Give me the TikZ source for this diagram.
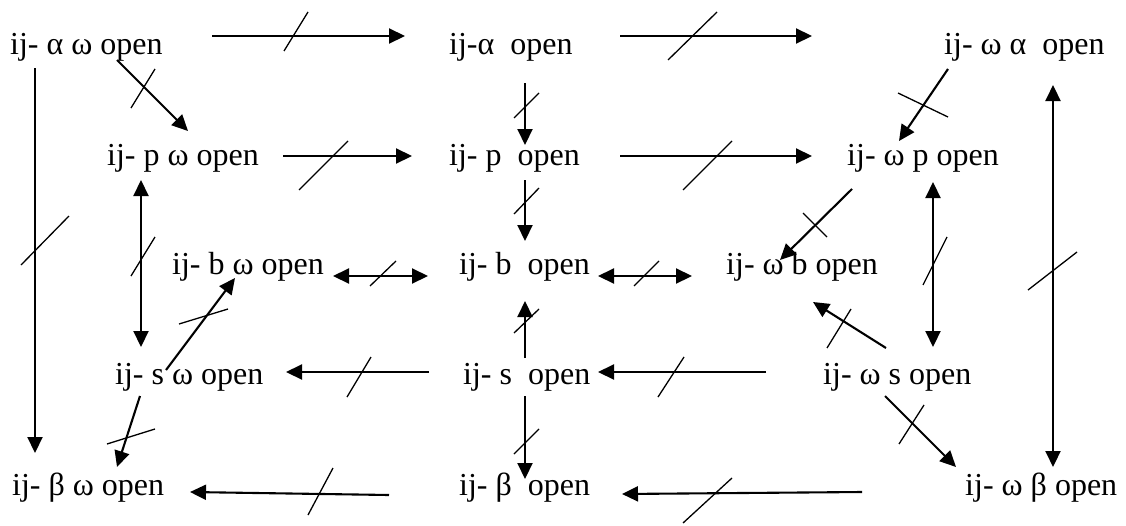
\documentclass[tikz,border=0pt]{standalone}
\usepackage{fontspec}
\setmainfont{Liberation Serif}
\usetikzlibrary{arrows.meta}
\tikzset{
  lab/.style={anchor=base west, inner sep=0pt, font=\fontsize{32}{38}\selectfont},
  tip/.tip={Triangle[length=16pt,width=15pt]},
  arr/.style={line width=2.1pt, -tip},
  darr/.style={line width=2.1pt, tip-tip},
  strike/.style={line width=1.3pt}
}
\newcommand{\sh}[3]{([shift={(#1,#2)}]#3.base west)}
\begin{document}
\begin{tikzpicture}[x=1pt,y=-1pt]
\useasboundingbox (0,0) rectangle (1126,525);
% nodes
\node[lab] (A1) at (10,54)  {ij- α ω open};
\node[lab] (A2) at (449,54) {ij-α\ \ open};
\node[lab] (A3) at (944,54) {ij- ω α\ \ open};
\node[lab] (B1) at (107,165) {ij- p ω open};
\node[lab] (B2) at (449,165) {ij- p\ \ open};
\node[lab] (B3) at (847,165) {ij- ω p open};
\node[lab] (C1) at (172,274) {ij- b ω open};
\node[lab] (C2) at (459,274) {ij- b\ \ open};
\node[lab] (C3) at (726,274) {ij- ω b open};
\node[lab] (D1) at (115,384) {ij- s ω open};
\node[lab] (D2) at (463,384) {ij- s\ \ open};
\node[lab] (D3) at (823,384) {ij- ω s open};
\node[lab] (E1) at (12,495) {ij- β ω open};
\node[lab] (E2) at (459,495) {ij- β\ \ open};
\node[lab] (E3) at (965,495) {ij- ω β open};
% connectors
\draw[arr] \sh{202}{-18}{A1} -- \sh{-44}{-18}{A2};
\draw[arr] \sh{171}{-18}{A2} -- \sh{-132}{-18}{A3};
\draw[arr] \sh{107}{6}{A1} -- \sh{81}{-34}{B1};
\draw[arr] \sh{25}{14}{A1} -- \sh{23}{-42}{E1};
\draw[arr] \sh{176}{-9}{B1} -- \sh{-37}{-9}{B2};
\draw[arr] \sh{171}{-9}{B2} -- \sh{-35}{-9}{B3};
\draw[arr] \sh{76}{29}{A2} -- \sh{76}{-20}{B2};
\draw[arr] \sh{4}{15}{A3} -- \sh{52}{-24}{B3};
\draw[darr] \sh{109}{31}{A3} -- \sh{88}{-28}{E3};
\draw[darr] \sh{34}{15}{B1} -- \sh{26}{-37}{D1};
\draw[arr] \sh{76}{15}{B2} -- \sh{66}{-33}{C2};
\draw[darr] \sh{161}{2}{C1} -- \sh{-31}{2}{C2};
\draw[darr] \sh{139}{2}{C2} -- \sh{-34}{2}{C3};
\draw[arr] \sh{5}{24}{B3} -- \sh{54}{-14}{C3};
\draw[darr] \sh{86}{17}{B3} -- \sh{110}{-37}{D3};
\draw[arr] \sh{63}{-36}{D3} -- \sh{87}{28}{C3};
\draw[arr] \sh{62}{-26}{D2} -- \sh{66}{27}{C2};
\draw[arr] \sh{-34}{-12}{D2} -- \sh{171}{-12}{D1};
\draw[arr] \sh{-57}{-12}{D3} -- \sh{135}{-12}{D2};
\draw[arr] \sh{51}{-14}{D1} -- \sh{63}{4}{C1};
\draw[arr] \sh{25}{12}{D1} -- \sh{105}{-28}{E1};
\draw[arr] \sh{62}{12}{D2} -- \sh{66}{-16}{E2};
\draw[arr] \sh{62}{12}{D3} -- \sh{-9}{-28}{E3};
\draw[arr] \sh{-70}{0}{E2} -- \sh{178}{-3}{E1};
\draw[arr] \sh{-103}{-3}{E3} -- \sh{163}{-1}{E2};
% strike marks
\draw[strike] (284,51) -- (308,12);
\draw[strike] (668,60) -- (717,12);
\draw[strike] (131,108) -- (155,69);
\draw[strike] (21,265) -- (69,216);
\draw[strike] (299,190) -- (348,141);
\draw[strike] (683,190) -- (732,141);
\draw[strike] (514,118) -- (539,93);
\draw[strike] (898,93) -- (948,117);
\draw[strike] (1028,290) -- (1077,252);
\draw[strike] (131,276) -- (155,237);
\draw[strike] (514,214) -- (539,188);
\draw[strike] (370,286) -- (396,261);
\draw[strike] (634,286) -- (659,261);
\draw[strike] (803,213) -- (827,237);
\draw[strike] (923,285) -- (947,237);
\draw[strike] (827,348) -- (851,309);
\draw[strike] (514,333) -- (539,309);
\draw[strike] (347,397) -- (371,357);
\draw[strike] (658,397) -- (684,357);
\draw[strike] (179,324) -- (228,309);
\draw[strike] (107,444) -- (155,429);
\draw[strike] (514,454) -- (539,429);
\draw[strike] (899,444) -- (924,405);
\draw[strike] (308,515) -- (333,468);
\draw[strike] (683,523) -- (732,478);
\end{tikzpicture}
\end{document}
